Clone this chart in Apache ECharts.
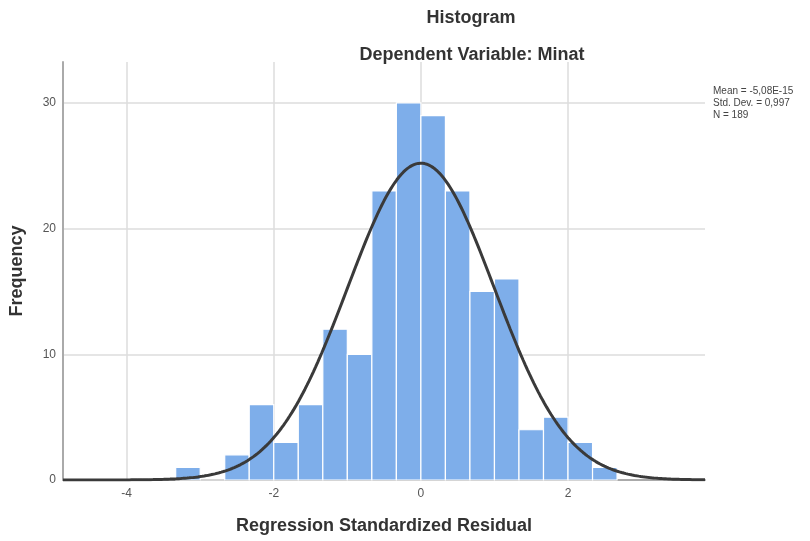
<!DOCTYPE html>
<html>
<head>
<meta charset="utf-8">
<script src="https://cdn.jsdelivr.net/npm/echarts@6/dist/echarts.min.js"></script>
<style>html,body{margin:0;padding:0;background:#fff;}#c{width:810px;height:541px;}</style>
</head>
<body>
<div id="c"></div>
<script>
// Histogram bins (lower edges) and counts
const binWidth = 1 / 3;
const binStarts = [-10/3, -3, -8/3, -7/3, -2, -5/3, -4/3, -1, -2/3, -1/3, 0, 1/3, 2/3, 1, 4/3, 5/3, 2, 7/3];
const counts    = [1, 0, 2, 6, 3, 6, 12, 10, 23, 30, 29, 23, 15, 16, 4, 5, 3, 1];
const xTicks = [-4, -2, 0, 2];
const yTicks = [0, 10, 20, 30];
// Normal curve parameters (as reported on the chart)
const mean = -5.08e-15;
const stdDev = 0.997;
const nObs = 189;
const statsLines = ['Mean = -5,08E-15', 'Std. Dev. = 0,997', 'N = 189'];

const xMin = -4.865, xMax = 3.862;

const barData = binStarts.map((s, i) => [s, s + binWidth, counts[i]]);
const curve = [];
const steps = 300;
for (let i = 0; i <= steps; i++) {
  const x = xMin + (xMax - xMin) * i / steps;
  const z = (x - mean) / stdDev;
  const y = nObs * binWidth * Math.exp(-0.5 * z * z) / (stdDev * Math.sqrt(2 * Math.PI));
  curve.push([x, y]);
}

const chart = echarts.init(document.getElementById('c'));
const font = 'Liberation Sans, Arial, sans-serif';
chart.setOption({
  animation: false,
  backgroundColor: '#ffffff',
  textStyle: { fontFamily: font },
  title: [
    { text: 'Histogram', left: 466, top: 4, textAlign: 'center',
      textStyle: { fontSize: 18, fontWeight: 'bold', color: '#333', fontFamily: font } },
    { text: 'Dependent Variable: Minat', left: 467, top: 41, textAlign: 'center',
      textStyle: { fontSize: 18, fontWeight: 'bold', color: '#333', fontFamily: font } }
  ],
  grid: { left: 61, right: 105, top: 62, bottom: 61, containLabel: false },
  xAxis: {
    type: 'value', min: xMin, max: xMax,
    name: 'Regression Standardized Residual', nameLocation: 'middle', nameGap: 37,
    nameTextStyle: { fontSize: 18, fontWeight: 'bold', color: '#333', fontFamily: font },
    axisLine: { show: true, onZero: false, lineStyle: { color: '#aaa', width: 2 } },
    axisTick: { show: false, customValues: xTicks },
    axisLabel: { customValues: xTicks, color: '#555', fontSize: 12, margin: 8 },
    splitLine: { show: true, lineStyle: { color: '#dcdcdc', width: 1.5 } }
  },
  yAxis: {
    type: 'value', min: 0, max: 33.26,
    name: 'Frequency', nameLocation: 'middle', nameGap: 37,
    nameTextStyle: { fontSize: 18, fontWeight: 'bold', color: '#333', fontFamily: font },
    axisLine: { show: true, onZero: false, lineStyle: { color: '#aaa', width: 2 } },
    axisTick: { show: false, customValues: yTicks },
    axisLabel: { customValues: yTicks, color: '#555', fontSize: 12, margin: 7 },
    splitLine: { show: true, lineStyle: { color: '#dcdcdc', width: 1.5 } }
  },
  graphic: [
    { type: 'text', left: 713, top: 85, z: 10,
      style: { text: statsLines.join('\n'), font: '10px ' + font, fill: '#444', lineHeight: 12 } }
  ],
  series: [
    {
      type: 'custom',
      data: barData,
      encode: { x: [0, 1], y: 2 },
      renderItem: function (params, api) {
        const p0 = api.coord([api.value(0), 0]);
        const p1 = api.coord([api.value(1), api.value(2)]);
        return {
          type: 'rect',
          shape: { x: p0[0], y: p1[1], width: p1[0] - p0[0], height: p0[1] - p1[1] },
          style: { fill: '#7eaeea', stroke: '#ffffff', lineWidth: 1.2 }
        };
      },
      z: 2
    },
    {
      type: 'line',
      data: curve,
      showSymbol: false,
      smooth: false,
      lineStyle: { color: '#3a3a3a', width: 3 },
      z: 5
    }
  ]
});
</script>
</body>
</html>
